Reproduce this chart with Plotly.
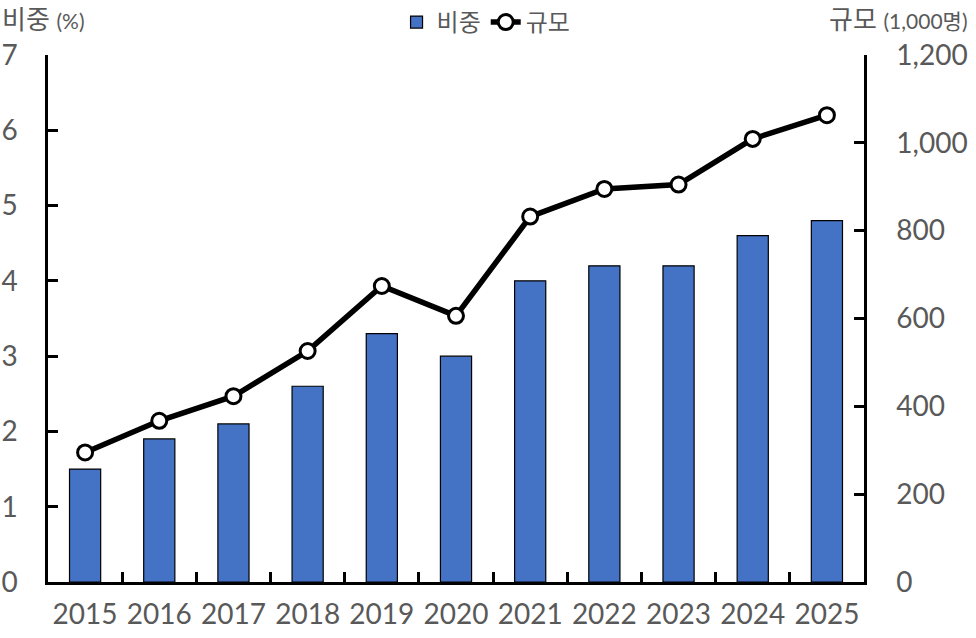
import plotly.graph_objects as go

years = ["2015", "2016", "2017", "2018", "2019", "2020", "2021", "2022", "2023", "2024", "2025"]
share_pct = [1.5, 1.9, 2.1, 2.6, 3.3, 3.0, 4.0, 4.2, 4.2, 4.6, 4.8]
size_thousands = [295, 367, 423, 526, 674, 606, 832, 895, 905, 1009, 1063]

FONT = "Lato, 'Noto Sans CJK KR', sans-serif"
GRAY = "#595959"

fig = go.Figure()
fig.add_trace(go.Bar(
    x=years, y=share_pct, name="비중",
    marker=dict(color="#4472C4", line=dict(color="black", width=1.2)),
    yaxis="y",
))
fig.add_trace(go.Scatter(
    x=years, y=size_thousands, name="규모", mode="lines+markers",
    line=dict(color="black", width=5.5),
    marker=dict(symbol="circle", size=15, color="white", line=dict(color="black", width=3)),
    yaxis="y2",
))

fig.update_layout(
    width=976, height=638,
    margin=dict(l=48, r=112, t=55, b=56, autoexpand=False),
    paper_bgcolor="white", plot_bgcolor="white",
    font=dict(family=FONT, color=GRAY, size=28),
    bargap=0.58,
    showlegend=True,
    legend=dict(orientation="h", xref="container", yref="container",
                x=0.498, xanchor="center", y=1.0, yanchor="top",
                font=dict(size=24, color=GRAY), itemwidth=30,
                bgcolor="rgba(0,0,0,0)", traceorder="normal"),
    xaxis=dict(
        type="category", range=[-0.5, len(years) - 0.5],
        showline=True, linecolor="black", linewidth=2.5,
        ticks="inside", tickson="boundaries", ticklen=10, tickwidth=2.5, tickcolor="black",
        showgrid=False, tickfont=dict(size=28, color=GRAY), tickangle=0, automargin=False,
        ticklabelstandoff=6,
    ),
    yaxis=dict(
        range=[0, 7], dtick=1, showline=True, linecolor="black", linewidth=2.5,
        ticks="inside", ticklen=10, tickwidth=2.5, tickcolor="black",
        showgrid=False, zeroline=False, tickfont=dict(size=28, color=GRAY),
        ticklabelstandoff=22, automargin=False,
    ),
    yaxis2=dict(
        range=[0, 1200], dtick=200, overlaying="y", side="right",
        showline=True, linecolor="black", linewidth=2.5,
        ticks="inside", ticklen=10, tickwidth=2.5, tickcolor="black",
        showgrid=False, zeroline=False, tickformat=",",
        tickfont=dict(size=28, color=GRAY), ticklabelstandoff=24, automargin=False,
    ),
    annotations=[
        dict(text="비중 <span style='font-size:21px'>(%)</span>", xref="paper", yref="paper",
             x=-48/816, xanchor="left", y=1.0, yanchor="bottom", yshift=18, showarrow=False,
             font=dict(size=26, color=GRAY, family=FONT)),
        dict(text="규모 <span style='font-size:21px'>(1,000명)</span>", xref="paper", yref="paper",
             x=1 + 106/816, xanchor="right", y=1.0, yanchor="bottom", yshift=18, showarrow=False,
             font=dict(size=26, color=GRAY, family=FONT)),
    ],
)

fig.write_html("out.html", config={"displayModeBar": False},
               post_script="document.body.style.margin='0';")
